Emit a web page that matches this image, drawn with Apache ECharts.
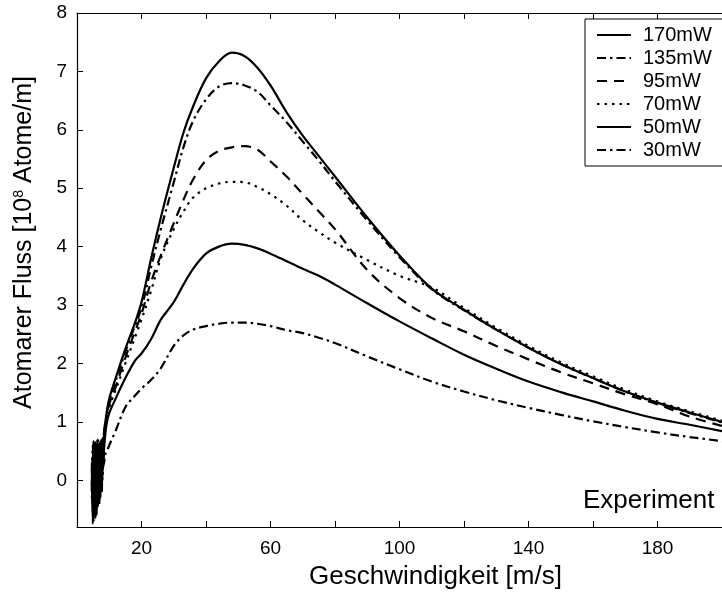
<!DOCTYPE html>
<html>
<head>
<meta charset="utf-8">
<script src="https://cdn.jsdelivr.net/npm/echarts@6/dist/echarts.min.js"></script>
<style>html,body{margin:0;padding:0;background:#fff}#c{width:722px;height:595px}</style>
</head>
<body>
<div id="c"></div>
<script>
// ---- data ----
const seriesNames = ['170mW', '135mW', '95mW', '70mW', '50mW', '30mW'];
const noiseSpeeds = [4.6, 4.9, 5.1, 5.3, 5.5, 5.7, 5.9, 6.1, 6.3, 6.5, 6.7, 6.9, 7.1, 7.3, 7.5, 7.7, 7.9, 8.1, 8.4, 8.8, 9.3];
const speeds = [10, 12, 15, 18, 20, 23, 26, 30, 33, 36, 40, 44, 48, 52, 56, 60, 65, 70, 75, 80, 90, 100, 110, 120, 130, 140, 150, 160, 170, 180, 190, 200];

const noise170 = [0.2, -0.55, 0.68, -0.3, 0.6, -0.65, 0.55, -0.2, 0.7, -0.45, 0.62, -0.1, 0.66, -0.3, 0.7, 0.05, 0.72, 0.3, 0.85, 1.0, 1.2];
const noise135 = [-0.1, 0.6, -0.7, 0.5, -0.35, 0.65, -0.55, 0.45, -0.25, 0.7, -0.4, 0.55, -0.15, 0.6, -0.2, 0.65, 0.1, 0.6, 0.75, 0.95, 1.15];
const noise95 = [0.3, -0.4, 0.55, -0.6, 0.4, -0.25, 0.62, -0.5, 0.35, -0.3, 0.58, -0.45, 0.5, -0.05, 0.6, -0.2, 0.55, 0.25, 0.7, 0.9, 1.1];
const noise70 = [-0.3, 0.5, -0.5, 0.65, -0.6, 0.3, -0.4, 0.6, -0.35, 0.45, -0.2, 0.5, -0.3, 0.4, 0.0, 0.55, 0.15, 0.5, 0.65, 0.85, 1.05];
const noise50 = [0.0, -0.75, 0.5, -0.45, 0.65, -0.3, 0.45, -0.6, 0.5, -0.25, 0.4, -0.35, 0.55, -0.1, 0.45, -0.15, 0.5, 0.2, 0.55, 0.8, 1.0];
const noise30 = [-0.2, 0.4, -0.65, 0.3, -0.5, 0.55, -0.3, 0.2, -0.45, 0.35, -0.2, 0.4, -0.25, 0.3, -0.1, 0.35, 0.0, 0.25, 0.3, 0.45, 0.5];

const flux170 = [1.4, 1.75, 2.25, 2.7, 3.05, 3.8, 4.5, 5.35, 5.95, 6.4, 6.88, 7.17, 7.32, 7.26, 7.06, 6.76, 6.3, 5.9, 5.55, 5.2, 4.5, 3.85, 3.28, 2.92, 2.58, 2.27, 1.99, 1.75, 1.52, 1.33, 1.16, 1.0];
const flux135 = [1.35, 1.7, 2.2, 2.65, 2.95, 3.65, 4.3, 5.1, 5.7, 6.15, 6.52, 6.74, 6.8, 6.76, 6.65, 6.42, 6.13, 5.8, 5.47, 5.12, 4.45, 3.82, 3.27, 2.91, 2.58, 2.27, 1.99, 1.75, 1.52, 1.32, 1.15, 0.99];
const flux95 = [1.3, 1.6, 2.1, 2.55, 2.85, 3.4, 3.85, 4.4, 4.8, 5.15, 5.48, 5.64, 5.7, 5.72, 5.66, 5.46, 5.2, 4.9, 4.6, 4.3, 3.6, 3.12, 2.78, 2.55, 2.3, 2.07, 1.85, 1.66, 1.47, 1.3, 1.09, 0.93];
const flux70 = [1.25, 1.55, 2.0, 2.45, 2.75, 3.25, 3.8, 4.3, 4.6, 4.84, 5.0, 5.08, 5.11, 5.1, 5.02, 4.9, 4.7, 4.45, 4.25, 4.07, 3.77, 3.5, 3.3, 2.95, 2.61, 2.3, 2.02, 1.78, 1.55, 1.35, 1.18, 1.02];
const flux50 = [1.15, 1.4, 1.75, 2.05, 2.17, 2.42, 2.75, 3.05, 3.35, 3.62, 3.88, 4.0, 4.05, 4.03, 3.97, 3.88, 3.75, 3.62, 3.5, 3.35, 3.03, 2.72, 2.43, 2.15, 1.91, 1.69, 1.51, 1.35, 1.19, 1.05, 0.95, 0.84];
const flux30 = [0.6, 0.85, 1.25, 1.45, 1.57, 1.72, 1.92, 2.3, 2.48, 2.58, 2.64, 2.68, 2.7, 2.7, 2.68, 2.64, 2.57, 2.52, 2.44, 2.35, 2.12, 1.9, 1.69, 1.52, 1.37, 1.24, 1.12, 1.01, 0.91, 0.82, 0.74, 0.67];

const yTickValues = [0, 1, 2, 3, 4, 5, 6, 7, 8];
const xLabelValues = [20, 60, 100, 140, 180];

// ---- styles ----
const FONT = 'Liberation Sans, Arial, sans-serif';
const noiseSets = [noise170, noise135, noise95, noise70, noise50, noise30];
const fluxSets = [flux170, flux135, flux95, flux70, flux50, flux30];
const dashTypes = ['solid', [9, 4, 2.5, 4], [10, 7], [2.5, 5], 'solid', [9, 4, 2.5, 4]];

function pairs(xs, ys) { return xs.map((x, i) => [x, ys[i]]); }

const series = seriesNames.map((name, k) => ({
  name: name,
  type: 'line',
  xAxisIndex: 0,
  yAxisIndex: 0,
  symbol: 'none',
  showSymbol: false,
  smooth: 0.35,
  clip: true,
  lineStyle: { color: '#000', width: 2.2, type: dashTypes[k] },
  itemStyle: { color: '#000' },
  data: pairs(noiseSpeeds, noiseSets[k]).concat(pairs(speeds, fluxSets[k]))
}));

const chart = echarts.init(document.getElementById('c'), null, { renderer: 'canvas' });
chart.setOption({
  animation: false,
  backgroundColor: '#fff',
  grid: { left: 77, top: 13, width: 654, height: 516, containLabel: false },
  xAxis: [{
    type: 'value', min: 0, max: 200, interval: 20, position: 'bottom',
    name: 'Geschwindigkeit [m/s]', nameLocation: 'middle', nameGap: 37,
    nameTextStyle: { fontFamily: FONT, fontSize: 26, color: '#000', padding: [0, 0, 0, 72] },
    axisLine: { show: true, onZero: false, lineStyle: { color: '#000', width: 1.2 } },
    axisTick: { show: true, inside: true, length: 6, lineStyle: { color: '#000', width: 1 } },
    axisLabel: { show: true, margin: 12, fontFamily: FONT, fontSize: 19, color: '#000', customValues: xLabelValues },
    splitLine: { show: false }
  }, {
    type: 'value', min: 0, max: 200, interval: 20, position: 'top',
    axisLine: { show: true, onZero: false, lineStyle: { color: '#000', width: 1.2 } },
    axisTick: { show: true, inside: true, length: 6, lineStyle: { color: '#000', width: 1 } },
    axisLabel: { show: false },
    splitLine: { show: false }
  }],
  yAxis: [{
    type: 'value', min: -0.8, max: 8, position: 'left',
    name: 'Atomarer Fluss [10{sup|8} Atome/m]', nameLocation: 'middle', nameGap: 40,
    nameTextStyle: { fontFamily: FONT, fontSize: 25, color: '#000', padding: [0, 0, 0, 55],
      rich: { sup: { fontFamily: FONT, fontSize: 14, verticalAlign: 'top', color: '#000', padding: [0, 0, 10, 0] } } },
    axisLine: { show: true, onZero: false, lineStyle: { color: '#000', width: 1.2 } },
    axisTick: { show: true, inside: true, length: 6, customValues: yTickValues, lineStyle: { color: '#000', width: 1 } },
    axisLabel: { show: true, margin: 10, fontFamily: FONT, fontSize: 19, color: '#000', customValues: yTickValues },
    splitLine: { show: false }
  }],
  legend: {
    orient: 'vertical', left: 585, top: 19,
    data: seriesNames,
    itemWidth: 34, itemHeight: 14, itemGap: 3,
    padding: [6, 60, 6, 11],
    borderColor: '#000', borderWidth: 1, backgroundColor: '#fff',
    itemStyle: { color: 'rgba(0,0,0,0)', borderColor: 'rgba(0,0,0,0)', borderWidth: 0 },
    textStyle: { fontFamily: FONT, fontSize: 20, color: '#000', padding: [0, 0, 0, 7] }
  },
  graphic: [{
    type: 'text', left: 583, top: 488,
    style: { text: 'Experiment', font: '26px Liberation Sans, Arial, sans-serif', fill: '#000' }
  }],
  series: series
});
</script>
</body>
</html>
